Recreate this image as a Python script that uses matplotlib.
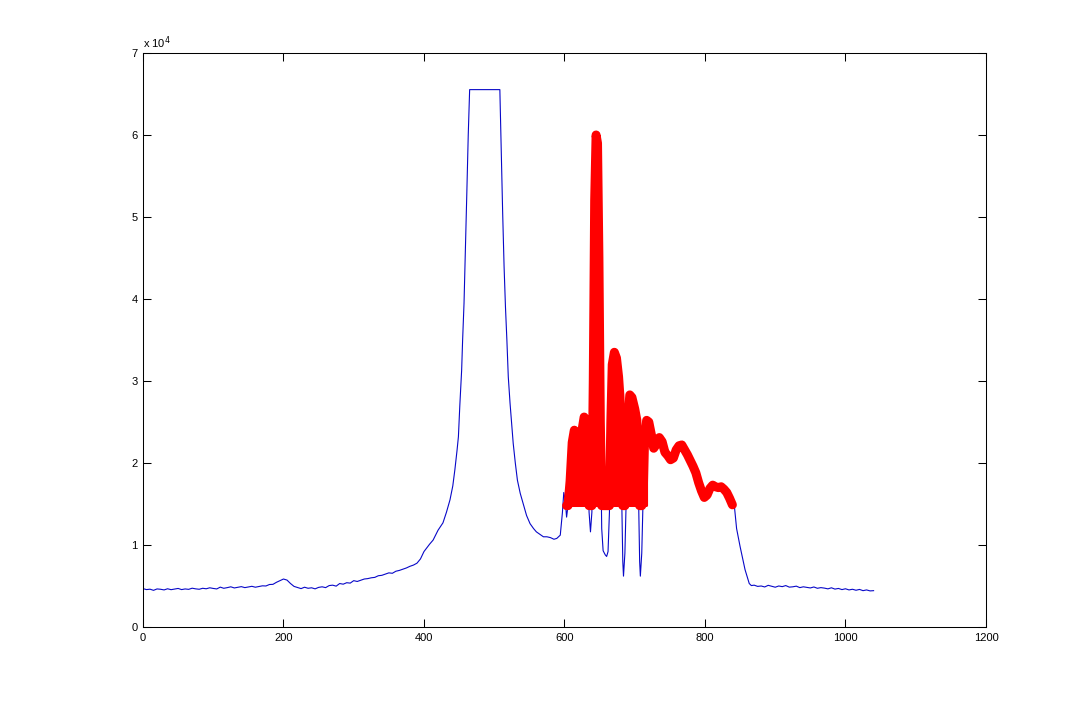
import matplotlib
matplotlib.use("Agg")
import matplotlib.pyplot as plt
import numpy as np
from matplotlib.ticker import FuncFormatter

left_x = np.arange(0, 400, 5)
left_y = [4680, 4560, 4610, 4470, 4640, 4600, 4520, 4660, 4550, 4620,
          4700, 4560, 4640, 4590, 4730, 4650, 4600, 4720, 4660, 4780,
          4700, 4640, 4860, 4720, 4800, 4900, 4760, 4840, 4920, 4800,
          4880, 4960, 4850, 4930, 5020, 5000, 5180, 5200, 5450, 5650,
          5850, 5720, 5300, 4950, 4820, 4680, 4850, 4720, 4780, 4650,
          4830, 4900, 4800, 5050, 5100, 4980, 5300, 5220, 5400, 5350,
          5650, 5550, 5700, 5850, 5900, 6000, 6050, 6250, 6300, 6450,
          6600, 6550, 6800, 6900, 7050, 7200, 7400, 7550, 7780, 8300]

# saturated peak and the oscillating region
mid_x = [400, 404, 408, 413, 420, 427, 432, 437, 441, 444, 447, 449, 451,
         453.6, 455, 457, 459, 461, 463, 465, 508, 510, 512, 514, 516, 518,
         520, 522.5, 525, 527, 530, 533, 537, 541, 546, 551, 556, 560, 565,
         570, 575, 580, 585, 589, 594, 597, 599, 601, 603, 605, 608, 611,
         614, 616, 619, 622, 625, 628, 631, 633, 635, 637, 639, 641, 643,
         645, 647, 649, 651, 653, 655, 658, 660, 662, 664, 666, 668, 671,
         674, 677, 679, 681, 683, 684, 686, 688, 690, 693, 696, 700, 703,
         705, 707, 708, 710, 712, 714, 717, 720, 724, 727, 731, 735, 739,
         743, 747, 751, 755, 759, 763, 767, 771, 775, 779, 783, 787, 791,
         795, 799, 803, 807, 811, 815, 819, 823, 827, 831, 835, 839, 842,
         845, 850, 857, 863, 866]
mid_y = [9200, 9650, 10100, 10600, 11800, 12700, 14000, 15500, 17200,
         19200, 21500, 23200, 27000, 31300, 35000, 39500, 46000, 53000,
         60000, 65535, 65535, 58000, 50500, 44000, 39000, 35000, 30500,
         27300, 24500, 22400, 20000, 17900, 16300, 15100, 13600, 12600,
         12000, 11600, 11300, 11000, 11000, 10900, 10700, 10800, 11200,
         13900, 16400, 15500, 13400, 14800, 17800, 22500, 24000, 23200,
         17800, 18000, 24000, 25600, 25200, 20000, 14000, 11600, 14000,
         30000, 52000, 60000, 59000, 45000, 25000, 12000, 9300, 8800, 8600,
         9200, 14000, 25000, 32000, 33500, 32800, 30500, 28000, 18000, 8000,
         6200, 9000, 16000, 25000, 28300, 28000, 26600, 25200, 18000, 8000,
         6200, 9000, 16000, 23000, 25200, 25000, 23300, 21800, 22300, 23100,
         22600, 21300, 20900, 20400, 20600, 21600, 22100, 22200, 21600,
         21000, 20300, 19600, 18800, 17600, 16600, 15800, 16100, 16900,
         17300, 17100, 17000, 17100, 16800, 16400, 15700, 14900, 14600,
         12000, 9800, 7000, 5300, 5050]

# right tail
tail_x = np.arange(870, 1045, 5)
tail_y = [5100, 4950, 5000, 4880, 5080, 4960, 4850, 5000, 4920, 5050,
          4860, 4900, 4980, 4800, 4900, 4830, 4760, 4880, 4720, 4800,
          4740, 4650, 4780, 4620, 4700, 4560, 4660, 4520, 4600, 4480,
          4580, 4430, 4520, 4400, 4430]

red_start = 603
red_end = 840
red_floor = 14800
fill_end = 717

x = np.concatenate([left_x, mid_x, tail_x])
y = np.concatenate([left_y, mid_y, tail_y]).astype(float)

sel = (x >= red_start) & (x <= red_end)
red_x = x[sel]
red_y = np.maximum(y[sel], red_floor)

fig = plt.figure(figsize=(10.89, 7.04), dpi=100)
ax = fig.add_axes([0.1313, 0.1094, 0.7741, 0.8153])

ax.plot(x, y, color="#0808c8", linewidth=0.8)

# dense oscillating part looks solid from the floor up to the envelope
dense = red_x <= fill_end
ax.fill_between(red_x[dense], red_floor, red_y[dense],
                where=red_y[dense] > red_floor, interpolate=True,
                facecolor="#ff0000", edgecolor="#ff0000", linewidth=2.0)
ax.plot(red_x, red_y, color="#ff0000", linewidth=6.5,
        solid_joinstyle="round", solid_capstyle="round")

ax.set_xlim(0, 1200)
ax.set_ylim(0, 70000)
ax.set_xticks(np.arange(0, 1201, 200))
ax.set_yticks(np.arange(0, 70001, 10000))
ax.yaxis.set_major_formatter(FuncFormatter(lambda v, p: f"{v / 1e4:g}"))

font = ["Liberation Sans", "DejaVu Sans"]
ax.tick_params(direction="in", length=5.5, width=0.75, top=True, right=True,
               labelsize=8, pad=4, colors="black")
for lab in ax.get_xticklabels() + ax.get_yticklabels():
    lab.set_family(font)
for sp in ax.spines.values():
    sp.set_linewidth(0.75)

ax.text(0.0, 1.004, r"x 10$^4$", transform=ax.transAxes, fontsize=8,
        family=font, ha="left", va="bottom")

fig.savefig("out.png", dpi=100)
